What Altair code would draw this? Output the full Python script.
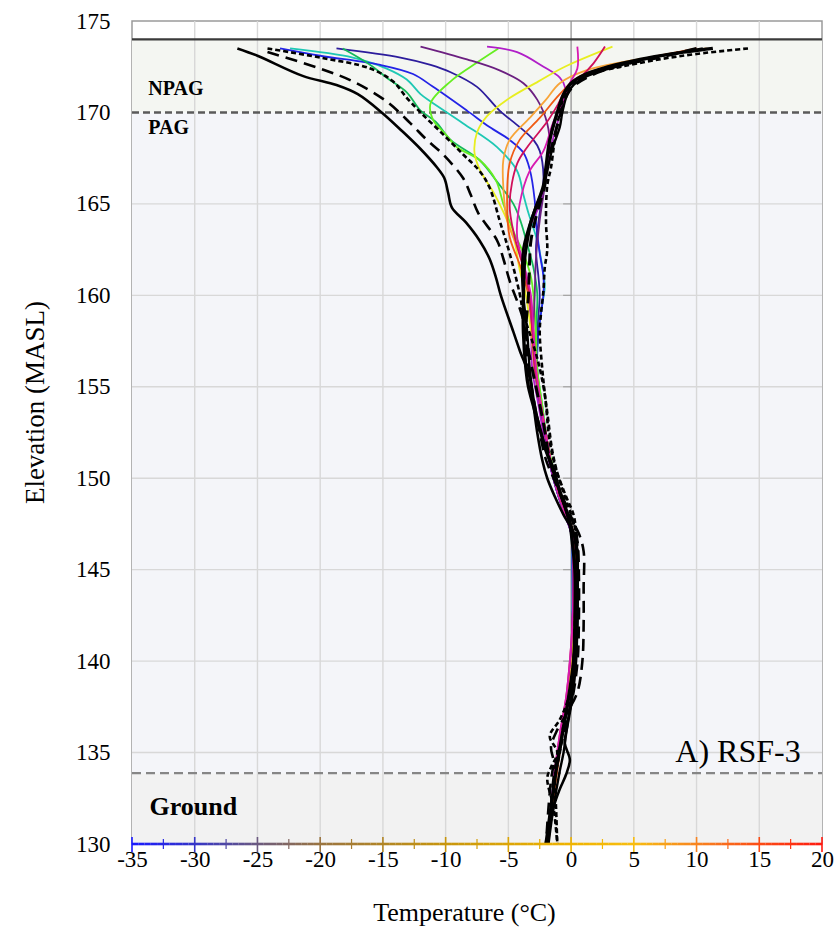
import altair as alt
import pandas as pd

# ---------------- data ----------------
X_TICKS = [-35, -30, -25, -20, -15, -10, -5, 0, 5, 10, 15, 20]
X_MINOR = [-32.5, -27.5, -22.5, -17.5, -12.5, -7.5, -2.5, 2.5, 7.5, 12.5, 17.5]
Y_TICKS = [130, 135, 140, 145, 150, 155, 160, 165, 170, 175]
Y_GRID = [135, 140, 145, 150, 155, 160, 165]

# zones (elevation bounds)
ZONE_LOW = [130.0, 133.87, 170.0]
ZONE_HIGH = [133.87, 170.0, 174.0]
ZONE_FILL = ["#f2f2f2", "#f4f5f9", "#f4f6f2"]

# colour bar along the temperature axis
GRAD_T = [-35, -30, -25, -20, -10, 0, 5, 10, 15, 20]
GRAD_C = ["#1a1aff", "#3535c8", "#6b5a80", "#9a7440", "#c8960c",
          "#f0b400", "#f8bd10", "#f88420", "#fc4c14", "#ff1a10"]

# profiles: (elevation MASL, temperature °C)
BS_COLD = [(173.5,-26.6),(173.1,-25.0),(172.0,-21.4),(171.5,-18.7),(171.0,-17.0),(170.0,-15.1),
           (169.0,-13.5),(168.0,-12.0),(167.0,-10.7),(166.4,-10.1),(165.6,-9.8),(164.8,-9.5),
           (164.0,-8.4),(163.0,-7.3),(162.0,-6.5),(161.0,-6.0),(160.0,-5.6),(158.0,-4.6),
           (157.0,-4.1),(155.5,-3.3),(154.0,-3.0),(152.5,-2.7),(151.0,-2.3),(150.0,-1.9),
           (149.0,-1.3),(148.0,-0.6),(147.0,0.2),(146.0,0.5),(144.0,0.5),(142.0,0.5),
           (140.0,0.3),(138.0,0.0),(136.5,-0.3),(135.5,-0.5),(134.6,-0.1),(133.8,-0.4),
           (133.0,-0.9),(132.0,-1.4),(130.0,-1.9)]
BL_COLD = [(173.3,-24.2),(172.4,-20.0),(171.7,-17.4),(170.6,-14.7),(169.4,-12.8),(168.5,-11.5),
           (167.7,-10.2),(166.4,-8.6),(165.5,-8.0),(164.5,-7.4),(163.0,-5.9),(162.0,-5.4),
           (160.8,-4.9),(158.6,-3.8),(156.1,-3.4),(154.4,-3.0),(152.5,-2.5),(151.0,-2.0),
           (150.0,-1.4),(149.0,-0.8),(148.0,-0.2),(147.0,0.6),(146.0,1.0),(144.0,1.0),
           (142.0,1.0),(140.0,0.9),(138.3,0.5),(137.2,-0.3),(136.1,-1.2),(135.3,-1.6),
           (134.5,-1.4),(133.5,-1.6),(132.0,-1.8),(130.0,-2.0)]
BD_COLD = [(173.5,-24.2),(173.0,-20.0),(172.4,-16.0),(171.7,-14.2),(170.8,-13.1),(170.0,-12.0),
           (168.8,-10.2),(167.7,-8.6),(166.8,-7.3),(165.9,-6.5),(164.1,-5.7),(162.3,-4.9),
           (160.1,-4.1),(159.0,-3.8),(157.5,-3.1),(156.3,-2.6),(155.0,-2.2),(153.6,-1.9),
           (151.5,-1.5),(150.3,-1.1),(149.0,-0.5),(148.0,0.0),(147.0,0.4),(146.0,0.5),
           (144.0,0.4),(142.0,0.3),(140.0,0.2),(138.0,-0.2),(136.8,-0.9),(135.9,-1.7),
           (135.0,-1.1),(134.2,-1.6),(133.6,-1.9),(132.0,-1.4),(130.0,-1.1)]
BS_WARM = [(173.5,11.3),(173.2,8.0),(172.9,5.5),(172.5,3.0),(172.1,1.2),(171.6,0.0),(171.0,-0.6),
           (170.0,-1.1),(168.5,-1.7),(167.0,-2.0),(166.0,-2.2),(165.0,-2.7),(164.0,-3.2),
           (163.0,-3.5),(162.0,-3.7),(160.0,-3.8),(158.0,-3.8),(156.0,-3.6),(155.0,-3.4),
           (153.0,-2.6),(151.5,-2.0),(150.5,-1.4),(149.5,-1.0),(148.5,-0.5),(147.5,-0.1),
           (146.5,0.1),(145.0,0.3),(142.0,0.3),(140.0,0.2),(138.0,-0.2),(136.0,-0.7),
           (134.0,-1.2),(132.0,-1.6),(130.0,-2.0)]
BS_MILD = [(173.5,10.5),(173.0,6.5),(172.4,3.0),(172.0,1.3),(171.5,0.2),(171.0,-0.3),(170.0,-0.7),
           (169.2,-0.9),(168.0,-1.5),(166.8,-1.9),(165.9,-2.2),(164.5,-3.0),(162.6,-3.8),
           (161.0,-3.9),(159.9,-3.8),(158.0,-3.5),(156.0,-3.3),(154.0,-2.9),(152.0,-2.2),
           (150.5,-1.5),(149.0,-0.8),(148.0,-0.3),(147.0,0.2),(145.0,0.5),(142.0,0.5),
           (140.0,0.4),(138.0,0.1),(136.0,-0.4),(135.0,-0.6),(134.0,-0.9),(132.0,-1.4),(130.0,-1.8)]
BL_WARM = [(173.5,10.0),(173.0,7.0),(172.5,3.5),(172.0,1.5),(171.5,0.3),(171.0,-0.3),(170.0,-0.8),
           (168.5,-1.4),(167.0,-1.9),(166.0,-2.1),(165.0,-2.5),(164.0,-2.9),(163.0,-3.2),
           (162.0,-3.3),(160.0,-3.4),(158.0,-3.6),(157.0,-3.4),(155.0,-2.8),(153.0,-2.2),
           (151.0,-1.7),(149.5,-1.0),(148.5,-0.4),(147.5,0.2),(146.5,0.5),(145.0,0.6),
           (142.0,0.6),(140.0,0.5),(138.0,0.1),(136.0,-0.6),(134.0,-1.3),(132.0,-1.6),(130.0,-1.9)]
BD_WARM = [(173.5,14.1),(173.2,10.0),(172.9,7.0),(172.5,4.0),(172.1,1.5),(171.6,0.2),(171.0,-0.5),
           (170.0,-0.9),(168.5,-1.3),(167.0,-1.6),(166.0,-1.9),(164.0,-2.0),(162.5,-1.9),
           (161.5,-2.1),(160.3,-2.2),(159.0,-2.4),(158.0,-2.5),(156.0,-2.3),(154.0,-2.0),
           (152.0,-1.7),(150.5,-1.2),(149.0,-0.4),(148.0,0.2),(147.0,0.4),(145.0,0.5),
           (142.0,0.4),(140.0,0.2),(138.0,-0.1),(136.5,-0.6),(135.0,-0.9),(133.5,-1.3),
           (132.0,-1.2),(130.0,-1.1)]
BLUE = [(173.5,-23.2),(173.1,-20.0),(172.6,-15.2),(172.1,-12.6),(171.4,-11.0),(170.1,-8.3),
        (169.2,-6.5),(168.5,-4.9),(167.8,-3.8),(166.9,-3.3),(165.2,-2.9),(164.0,-2.8),
        (162.3,-2.5),(161.0,-2.2),(160.1,-2.2),(159.0,-2.4),(158.0,-2.6),(156.0,-2.7),
        (154.0,-2.4),(152.0,-2.0),(150.5,-1.6),(149.0,-1.0),(148.0,-0.5),(147.0,0.0),
        (145.0,0.1),(142.0,0.1),(140.0,0.0),(138.0,-0.3),(136.0,-0.8),(134.0,-1.3),
        (132.0,-1.6),(130.0,-1.9)]
TEAL = [(173.5,-22.4),(173.0,-17.4),(172.4,-14.7),(171.8,-13.1),(171.0,-12.0),(170.6,-11.2),
        (169.4,-8.6),(168.1,-5.9),(166.8,-4.3),(165.5,-3.8),(164.5,-3.4),(163.0,-2.7),
        (162.0,-2.4),(160.5,-2.1),(159.5,-2.3),(158.0,-2.6),(156.0,-2.7),(154.0,-2.3),
        (152.0,-1.9),(150.5,-1.5),(149.0,-1.0),(148.0,-0.4),(147.0,0.0),(145.0,0.1),
        (142.0,0.1),(140.0,0.0),(138.0,-0.3),(136.0,-0.8),(134.0,-1.2),(132.0,-1.6),(130.0,-1.9)]
NAVY = [(173.5,-18.7),(173.0,-13.6),(172.6,-11.2),(172.2,-9.6),(171.4,-7.5),(170.1,-5.7),
        (169.2,-4.1),(168.5,-3.0),(167.9,-2.5),(166.5,-2.2),(165.0,-2.4),(164.0,-2.6),
        (162.5,-2.8),(161.0,-2.6),(160.0,-2.5),(158.0,-2.7),(156.0,-2.8),(154.0,-2.5),
        (152.0,-2.0),(150.5,-1.6),(149.0,-1.0),(148.0,-0.5),(147.0,0.0),(145.0,0.2),
        (142.0,0.2),(140.0,0.0),(138.0,-0.3),(136.0,-0.8),(134.0,-1.2),(132.0,-1.6),(130.0,-1.9)]
GREEN = [(173.5,-18.2),(172.6,-16.0),(171.9,-14.7),(171.1,-13.1),(170.1,-12.0),(169.5,-10.8),
         (168.5,-9.6),(167.4,-7.3),(166.3,-6.0),(165.0,-4.6),(164.0,-4.0),(162.8,-3.5),
         (161.5,-3.0),(160.1,-2.7),(158.0,-2.8),(156.0,-2.8),(154.0,-2.4),(152.0,-1.9),
         (150.5,-1.5),(149.0,-0.9),(148.0,-0.4),(147.0,0.1),(145.0,0.3),(142.0,0.2),
         (140.0,0.1),(138.0,-0.3),(136.0,-0.7),(134.0,-1.2),(132.0,-1.6),(130.0,-1.9)]
LIME = [(173.5,-5.8),(172.5,-8.0),(171.7,-9.6),(170.5,-11.2),(169.6,-11.0),(168.8,-10.0),
        (168.1,-9.1),(167.4,-7.3),(166.3,-6.0),(165.0,-5.4),(163.5,-4.6),(162.3,-3.8),
        (161.0,-3.2),(160.0,-3.0),(158.0,-2.8),(156.0,-2.7),(154.0,-2.3),(152.0,-1.9),
        (150.5,-1.4),(149.0,-0.9),(148.0,-0.4),(147.0,0.1),(145.0,0.2),(142.0,0.2),
        (140.0,0.0),(138.0,-0.3),(136.0,-0.8),(134.0,-1.2),(132.0,-1.6),(130.0,-1.9)]
PURPLE = [(173.6,-12.0),(172.9,-8.3),(172.3,-5.7),(171.6,-3.8),(170.7,-2.7),(169.4,-1.9),
          (167.9,-1.7),(166.9,-1.9),(165.5,-2.2),(164.1,-2.5),(162.0,-2.8),(160.0,-2.9),
          (158.0,-3.0),(156.0,-2.9),(154.0,-2.5),(152.0,-2.0),(150.5,-1.6),(149.0,-1.0),
          (148.0,-0.5),(147.0,0.0),(145.0,0.2),(142.0,0.1),(140.0,0.0),(138.0,-0.3),
          (136.0,-0.8),(134.0,-1.2),(132.0,-1.6),(130.0,-1.9)]
VIOLET = [(173.6,-6.7),(173.3,-4.3),(172.5,-2.2),(171.9,-0.9),(171.4,-0.5),(170.7,-0.6),
          (169.4,-1.1),(167.9,-1.7),(166.9,-2.0),(165.0,-2.5),(163.7,-3.3),(162.3,-3.8),
          (160.6,-3.5),(158.5,-3.2),(156.0,-3.1),(154.0,-2.6),(152.0,-2.1),(150.5,-1.6),
          (149.0,-1.0),(148.0,-0.5),(147.0,0.0),(145.0,0.2),(142.0,0.2),(140.0,0.0),
          (138.0,-0.3),(136.0,-0.8),(134.0,-1.2),(132.0,-1.6),(130.0,-1.9)]
YELLOW = [(173.6,3.3),(172.5,-0.5),(171.7,-2.6),(170.7,-5.1),(169.8,-6.7),(168.9,-7.5),
          (167.8,-7.7),(166.9,-7.3),(165.4,-6.0),(163.2,-4.6),(161.4,-4.1),(160.0,-3.6),
          (158.0,-3.2),(156.0,-2.9),(154.0,-2.4),(152.0,-1.9),(150.5,-1.5),(149.0,-0.9),
          (148.0,-0.4),(147.0,0.1),(145.0,0.3),(142.0,0.2),(140.0,0.1),(138.0,-0.3),
          (136.0,-0.8),(134.0,-1.2),(132.0,-1.6),(130.0,-1.9)]
LIGHT_ORANGE = [(173.5,10.8),(173.2,8.0),(172.8,4.5),(172.3,1.2),(171.6,-0.9),(170.7,-2.0),
                (169.7,-3.3),(168.5,-4.9),(167.4,-5.4),(165.9,-5.4),(164.1,-5.1),(162.3,-4.1),
                (160.5,-3.4),(158.0,-3.0),(156.0,-2.8),(154.0,-2.4),(152.0,-1.9),(150.5,-1.5),
                (149.0,-0.9),(148.0,-0.4),(147.0,0.1),(145.0,0.3),(142.0,0.3),(140.0,0.1),
                (138.0,-0.3),(136.0,-0.8),(134.0,-1.2),(132.0,-1.6),(130.0,-1.9)]
DARK_ORANGE = [(173.5,10.0),(173.1,7.0),(172.6,3.5),(171.9,0.5),(171.0,-0.9),(169.7,-2.5),
               (168.5,-4.1),(167.2,-4.9),(165.0,-5.1),(163.2,-4.9),(161.5,-4.0),(160.0,-3.4),
               (158.0,-3.0),(156.0,-2.8),(154.0,-2.4),(152.0,-1.9),(150.5,-1.5),(149.0,-0.9),
               (148.0,-0.3),(147.0,0.2),(145.0,0.4),(142.0,0.4),(140.0,0.2),(138.0,-0.2),
               (136.0,-0.7),(134.0,-1.1),(132.0,-1.5),(130.0,-1.8)]
CRIMSON = [(173.6,2.7),(172.7,1.8),(171.9,0.7),(171.4,-0.3),(170.5,-1.0),(169.5,-1.9),
           (168.1,-3.5),(167.2,-4.3),(165.0,-4.9),(163.2,-4.5),(161.5,-3.8),(160.0,-3.3),
           (158.0,-3.1),(156.0,-2.9),(154.0,-2.4),(152.0,-1.9),(150.5,-1.5),(149.0,-0.9),
           (148.0,-0.4),(147.0,0.1),(145.0,0.2),(142.0,0.1),(140.0,-0.1),(138.0,-0.4),
           (136.0,-0.9),(134.0,-1.3),(132.0,-1.6),(130.0,-2.0)]
MAGENTA = [(173.6,0.5),(172.4,0.5),(171.6,-0.1),(170.6,-0.6),(169.5,-1.4),(167.9,-2.2),
           (166.8,-3.3),(165.0,-4.1),(163.2,-4.3),(161.5,-3.7),(160.0,-3.2),(158.0,-3.0),
           (156.0,-2.8),(154.0,-2.4),(152.0,-1.9),(150.5,-1.5),(149.0,-0.9),(148.0,-0.4),
           (147.0,0.1),(145.0,0.2),(142.0,0.1),(140.0,-0.1),(138.0,-0.4),(136.0,-0.9),
           (134.0,-1.3),(132.0,-1.6),(130.0,-2.0)]

# drawing order and style: (profile, colour, dash, width)
PROFILES = [
    (TEAL, "#1ec8b4", None, 1.8), (BLUE, "#2323e6", None, 1.8), (NAVY, "#2c1c9c", None, 1.8),
    (GREEN, "#14b85a", None, 1.8), (LIME, "#66ee22", None, 1.8), (PURPLE, "#6b1f80", None, 1.8),
    (VIOLET, "#b01ec8", None, 1.8), (YELLOW, "#e8ee20", None, 1.8),
    (LIGHT_ORANGE, "#f8a438", None, 1.8), (DARK_ORANGE, "#f05a14", None, 1.8),
    (CRIMSON, "#d0105a", None, 1.8), (MAGENTA, "#d81ab0", None, 1.8),
    (BS_COLD, "#000000", None, 2.6), (BL_COLD, "#000000", [12, 7], 2.6),
    (BD_COLD, "#000000", [5, 3], 2.6), (BS_MILD, "#000000", None, 2.4),
    (BS_WARM, "#000000", None, 3.4), (BL_WARM, "#000000", [12, 7], 3.0),
    (BD_WARM, "#000000", [5, 3], 2.6),
]

ANNOT_TEXT = ["NPAG", "PAG", "Ground"]
ANNOT_T = [-33.7, -33.7, -33.6]
ANNOT_E = [171.3, 169.15, 132.0]
ANNOT_SIZE = [20, 20, 26]

# ---------------- chart ----------------
W, H = 690, 823
FONT = "Liberation Serif"
xs = alt.Scale(domain=[-35, 20], nice=False, zero=False)
ys = alt.Scale(domain=[130, 175], nice=False, zero=False)

X_AXIS = alt.Axis(values=X_TICKS, domain=False, ticks=False, grid=False,
                  labelFont=FONT, labelFontSize=23, labelColor="black", labelPadding=4,
                  labelExpr="datum.value + ''", labelFlush=False,
                  title="Temperature (°C)", titleFont=FONT, titleFontSize=26,
                  titleFontWeight="normal", titleColor="black", titlePadding=28,
                  titleX=332, titleAnchor="middle")
Y_AXIS = alt.Axis(values=Y_TICKS, domain=False, ticks=False, grid=False,
                  labelFont=FONT, labelFontSize=23, labelColor="black", labelPadding=22,
                  labelExpr="datum.value + ''", labelFlush=False,
                  title="Elevation (MASL)", titleFont=FONT, titleFontSize=27,
                  titleFontWeight="normal", titleColor="black", titlePadding=26,
                  titleY=381, titleAnchor="middle")

zones = pd.DataFrame({"lo": ZONE_LOW, "hi": ZONE_HIGH, "fill": ZONE_FILL})
bg = alt.Chart(zones).mark_rect().encode(
    y=alt.Y("lo:Q", scale=ys, axis=Y_AXIS), y2="hi:Q",
    x=alt.value(0), x2=alt.value(W),
    color=alt.Color("fill:N", scale=None))

vg = alt.Chart(pd.DataFrame({"x": [v for v in X_TICKS if v not in (0, -35, 20)]})).mark_rule(
    color="#d8d8d8", strokeWidth=1.4).encode(
    x=alt.X("x:Q", scale=xs, axis=X_AXIS), y=alt.value(0), y2=alt.value(H))
hg = alt.Chart(pd.DataFrame({"y": Y_GRID})).mark_rule(color="#d8d8d8", strokeWidth=1.4).encode(
    y=alt.Y("y:Q", scale=ys, axis=Y_AXIS), x=alt.value(0), x2=alt.value(W))
zero = alt.Chart(pd.DataFrame({"x": [0]})).mark_rule(color="#8c8c8c", strokeWidth=1.2).encode(
    x=alt.X("x:Q", scale=xs, axis=X_AXIS), y=alt.value(0), y2=alt.value(H))
zticks = alt.Chart(pd.DataFrame({"y": Y_TICKS[1:-1], "x": [0] * (len(Y_TICKS) - 2)})).mark_tick(
    orient="horizontal", size=8, thickness=1.2, color="#8c8c8c", xOffset=-4).encode(
    x=alt.X("x:Q", scale=xs, axis=X_AXIS), y=alt.Y("y:Q", scale=ys, axis=Y_AXIS))

top_line = alt.Chart(pd.DataFrame({"y": [174.0]})).mark_rule(color="#3a3a3a", strokeWidth=2.2).encode(
    y=alt.Y("y:Q", scale=ys, axis=Y_AXIS), x=alt.value(0), x2=alt.value(W))
pag_line = alt.Chart(pd.DataFrame({"y": [170.0]})).mark_rule(
    color="#5a5a5a", strokeWidth=2.4, strokeDash=[7, 4]).encode(
    y=alt.Y("y:Q", scale=ys, axis=Y_AXIS), x=alt.value(0), x2=alt.value(W))
gnd_line = alt.Chart(pd.DataFrame({"y": [133.87]})).mark_rule(
    color="#868686", strokeWidth=2.2, strokeDash=[9, 5]).encode(
    y=alt.Y("y:Q", scale=ys, axis=Y_AXIS), x=alt.value(0), x2=alt.value(W))

curve_layers = []
for k, (prof, col, dash, wid) in enumerate(PROFILES):
    df = pd.DataFrame({"elev": [p[0] for p in prof], "temp": [p[1] for p in prof],
                       "i": list(range(len(prof)))})
    kw = dict(color=col, strokeWidth=wid, interpolate="catmull-rom")
    if dash:
        kw["strokeDash"] = dash
    curve_layers.append(alt.Chart(df).mark_line(**kw).encode(
        x=alt.X("temp:Q", scale=xs, axis=X_AXIS),
        y=alt.Y("elev:Q", scale=ys, axis=Y_AXIS),
        order=alt.Order("i:Q")))

# colour bar axis
seg_start = [X_TICKS[0] + 0.5 * j for j in range(110)]
segs = pd.DataFrame({"a": seg_start, "b": [s + 0.5 for s in seg_start],
                     "m": [s + 0.25 for s in seg_start]})
gscale = alt.Scale(domain=GRAD_T, range=GRAD_C, interpolate="rgb")
bar = alt.Chart(segs).mark_rule(strokeWidth=2.6).encode(
    x=alt.X("a:Q", scale=xs, axis=X_AXIS), x2="b:Q", y=alt.value(H),
    stroke=alt.Stroke("m:Q", scale=gscale, legend=None))
major = alt.Chart(pd.DataFrame({"x": X_TICKS})).mark_rule(strokeWidth=1.6).encode(
    x=alt.X("x:Q", scale=xs, axis=X_AXIS), y=alt.value(H - 7), y2=alt.value(H + 8),
    stroke=alt.Stroke("x:Q", scale=gscale, legend=None))
minor = alt.Chart(pd.DataFrame({"x": X_MINOR})).mark_rule(strokeWidth=1.2).encode(
    x=alt.X("x:Q", scale=xs, axis=X_AXIS), y=alt.value(H - 5), y2=alt.value(H + 5),
    stroke=alt.Stroke("x:Q", scale=gscale, legend=None))

ann = pd.DataFrame({"t": ANNOT_TEXT, "x": ANNOT_T, "y": ANNOT_E, "s": ANNOT_SIZE})
ann_layers = []
for j in range(len(ANNOT_TEXT)):
    ann_layers.append(alt.Chart(ann.iloc[[j]]).mark_text(
        font=FONT, fontWeight="bold", fontSize=ANNOT_SIZE[j], align="left",
        baseline="middle", color="black").encode(
        x=alt.X("x:Q", scale=xs, axis=X_AXIS), y=alt.Y("y:Q", scale=ys, axis=Y_AXIS), text="t:N"))
label = alt.Chart(pd.DataFrame({"t": ["A) RSF-3"], "x": [18.3], "y": [135.05]})).mark_text(
    font=FONT, fontSize=32, align="right", baseline="middle", color="black").encode(
    x=alt.X("x:Q", scale=xs, axis=X_AXIS), y=alt.Y("y:Q", scale=ys, axis=Y_AXIS), text="t:N")

chart = alt.layer(
    bg, vg, hg, zero, zticks, top_line, pag_line, gnd_line,
    *curve_layers, bar, major, minor, *ann_layers, label
).properties(
    width=W, height=H,
    autosize=alt.AutoSizeParams(type="none"),
    padding={"left": 132, "top": 21, "right": 15, "bottom": 88},
    background="white",
).configure_view(stroke="#9a9a9a", strokeWidth=1.5)

chart.save("out.html", embed_options={"renderer": "svg", "actions": False})
